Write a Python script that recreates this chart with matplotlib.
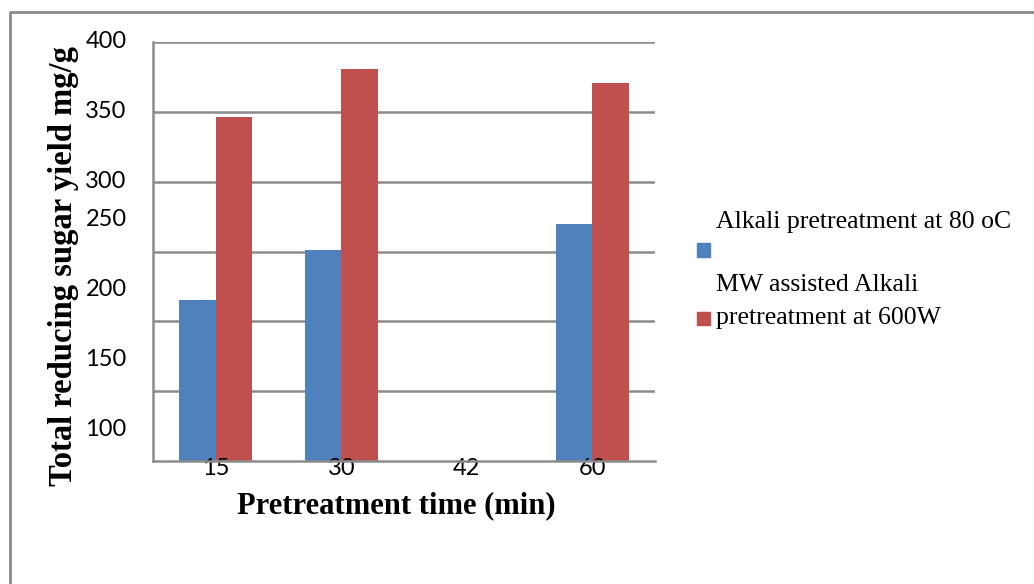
import matplotlib.pyplot as plt
import numpy as np
from matplotlib.lines import Line2D
from matplotlib.patches import Rectangle

# pretreatment times (min) and sugar yields (mg/g)
times = ["15", "30", "42", "60"]
alkali = [215, 251, 0, 270]
mw_alkali = [346, 381, 0, 371]
series_names = ["Alkali pretreatment at 80 oC", "MW assisted Alkali\npretreatment at 600W"]
y_ticks = [100, 150, 200, 250, 300, 350, 400]

blue = "#4F81BD"
red = "#C0504D"
grid_grey = "#8C8C8C"

fig = plt.figure(figsize=(10.34, 5.84), dpi=100)
ax = fig.add_axes([153 / 1034, 1 - 461 / 584, 502 / 1034, 419 / 584])

x = np.arange(len(times))
w = 0.29
ax.bar(x - w / 2, alkali, w, color=blue, zorder=1)
ax.bar(x + w / 2, mw_alkali, w, color=red, zorder=1)

ax.set_xlim(-0.5, len(times) - 0.5)
ax.set_ylim(100, 400)
ax.set_yticks(y_ticks)
ax.set_yticklabels([])
ax.tick_params(axis="y", length=0)
# gridlines under the bars, tick labels stay on top
for v in y_ticks[1:]:
    ax.axhline(v, color=grid_grey, linewidth=1.8, zorder=0)

ax.set_xticks(x)
ax.set_xticklabels(times, fontname="Lato", fontsize=17)
ax.tick_params(axis="x", length=0, pad=-2)

for side in ["top", "right"]:
    ax.spines[side].set_visible(False)
for side in ["left", "bottom"]:
    ax.spines[side].set_color(grid_grey)
    ax.spines[side].set_linewidth(1.8)

# y labels: the upper three sit on their gridlines, the rest are lifted
for v in y_ticks:
    dy = 0 if v >= 300 else 23
    ax.annotate(str(v), xy=(0, v), xycoords=("axes fraction", "data"),
                xytext=(-19, dy), textcoords="offset points",
                ha="right", va="center", fontname="Lato", fontsize=17)

fig.text(64 / 1034, 1 - 266 / 584, "Total reducing sugar yield mg/g",
         rotation=90, ha="center", va="center",
         fontname="Liberation Serif", fontweight="bold", fontsize=23.5)
fig.text(396 / 1034, 1 - 506 / 584, "Pretreatment time (min)",
         ha="center", va="center",
         fontname="Liberation Serif", fontweight="bold", fontsize=22)

# legend drawn by hand, Excel-style wrapping
leg_font = dict(fontname="Liberation Serif", fontsize=18.5, va="center", ha="left")
fig.text(716 / 1034, 1 - 222 / 584, series_names[0], **leg_font)
fig.text(716 / 1034, 1 - 285 / 584, series_names[1].split("\n")[0], **leg_font)
fig.text(716 / 1034, 1 - 318 / 584, series_names[1].split("\n")[1], **leg_font)
for cy, col in [(250, blue), (318, red)]:
    fig.patches.append(Rectangle((697 / 1034, 1 - (cy + 6.5) / 584), 13 / 1034, 13 / 584,
                                 transform=fig.transFigure, color=col))

# chart border
fig.add_artist(Line2D([10 / 1034, 10 / 1034, 1.0], [0.0, 1 - 12 / 584, 1 - 12 / 584],
                      transform=fig.transFigure, color=grid_grey, linewidth=2))

fig.savefig("out.png", dpi=100)
